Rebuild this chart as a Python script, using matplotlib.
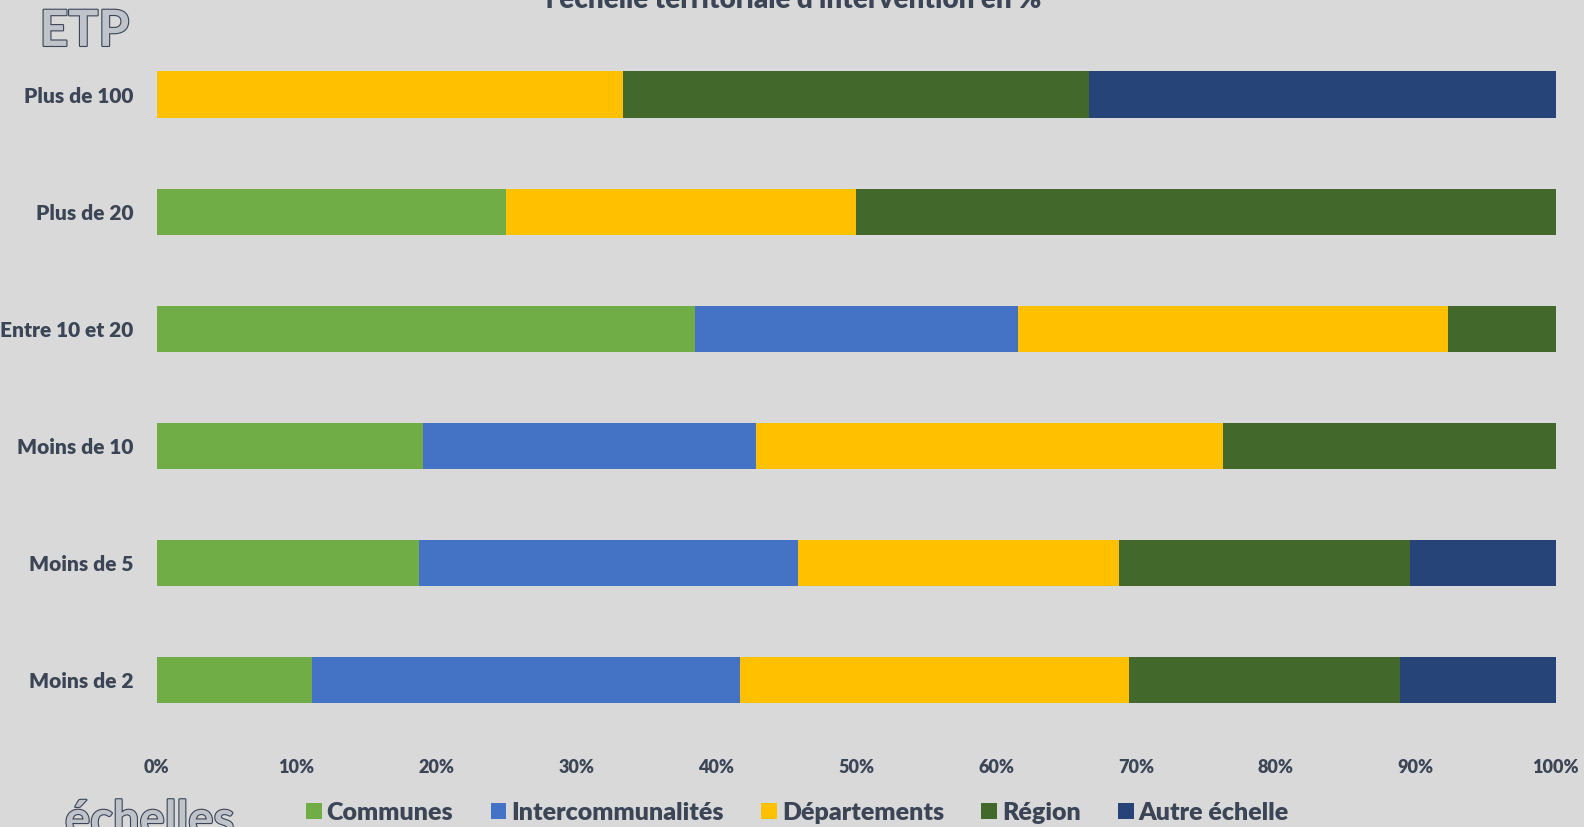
import matplotlib
matplotlib.use("Agg")
import matplotlib.pyplot as plt
import matplotlib.patheffects as pe
from matplotlib.ticker import FuncFormatter

categories = ["Moins de 2", "Moins de 5", "Moins de 10", "Entre 10 et 20", "Plus de 20", "Plus de 100"]
series_names = ["Communes", "Intercommunalités", "Départements", "Région", "Autre échelle"]
communes = [11.1, 18.75, 19.05, 38.46, 25.0, 0.0]
intercommunalites = [30.6, 27.08, 23.81, 23.08, 0.0, 0.0]
departements = [27.8, 22.92, 33.33, 30.77, 25.0, 33.33]
region = [19.4, 20.83, 23.81, 7.69, 50.0, 33.33]
autre = [11.1, 10.42, 0.0, 0.0, 0.0, 33.34]
colors = ["#70AD47", "#4472C4", "#FFC000", "#43682B", "#264478"]
xticks = [0, 10, 20, 30, 40, 50, 60, 70, 80, 90, 100]

bg = "#D9D9D9"
txt = "#3B4556"
plt.rcParams['font.family'] = ['Lato', 'DejaVu Sans']
W = 'heavy'

fig = plt.figure(figsize=(15.84, 8.27), dpi=100, facecolor=bg)
ax = fig.add_axes([0.0989, 0.107, 0.8833, 0.849], facecolor=bg)

ypos = list(range(len(categories)))
left = [0.0] * len(categories)
for name, vals, c in zip(series_names, [communes, intercommunalites, departements, region, autre], colors):
    ax.barh(ypos, vals, left=left, height=0.4, color=c, label=name, edgecolor='none')
    left = [l + v for l, v in zip(left, vals)]

ax.set_xlim(0, 100)
ax.set_ylim(-0.5, len(categories) - 0.5)
ax.set_yticks(ypos)
ax.set_yticklabels(categories)
ax.set_xticks(xticks)
ax.xaxis.set_major_formatter(FuncFormatter(lambda v, p: f"{int(v)}%"))
for s in ax.spines.values():
    s.set_visible(False)
ax.tick_params(axis='y', length=0, pad=17, labelsize=15, labelcolor=txt)
ax.tick_params(axis='x', length=0, pad=15, labelsize=13, labelcolor=txt)
for lab in ax.get_yticklabels() + ax.get_xticklabels():
    lab.set_fontweight(W)

fig.text(0.501, 1.0, "l'échelle territoriale d'intervention en %", ha='center', va='center',
         fontsize=20, fontweight=W, color=txt)

sketch = [pe.withStroke(linewidth=1.6, foreground=txt)]
fig.text(0.025, 0.962, "ETP", ha='left', va='center', fontsize=36, color="#BFC3CA",
         path_effects=sketch, fontweight='bold')
fig.text(0.041, 0.008, "échelles", ha='left', va='center', fontsize=34, color="#BFC3CA",
         path_effects=sketch, fontweight='bold')

leg = fig.legend(loc='center', bbox_to_anchor=(0.5035, 0.017), ncol=5, frameon=False,
                 fontsize=18, handlelength=0.62, handleheight=0.62, handletextpad=0.2,
                 columnspacing=1.5)
for t in leg.get_texts():
    t.set_color(txt)
    t.set_fontweight(W)

fig.savefig("out.png", dpi=100, facecolor=bg)
